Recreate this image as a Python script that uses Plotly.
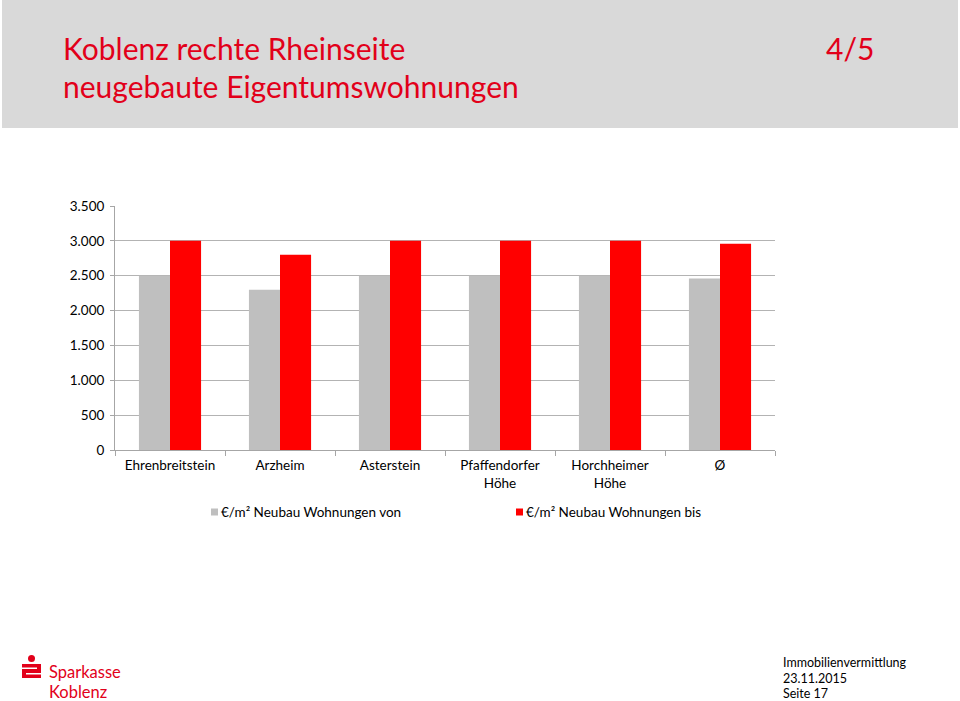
import plotly.graph_objects as go

categories = ["Ehrenbreitstein", "Arzheim", "Asterstein", "Pfaffendorfer<br>Höhe", "Horchheimer<br>Höhe", "Ø"]
values_von = [2500, 2300, 2500, 2500, 2500, 2460]
values_bis = [3000, 2800, 3000, 3000, 3000, 2960]
series_names = ["€/m² Neubau Wohnungen von", "€/m² Neubau Wohnungen bis"]
series_colors = ["#bfbfbf", "#ff0000"]
y_ticks = [0, 500, 1000, 1500, 2000, 2500, 3000, 3500]

RED = "#e2001a"
FONT = "Lato, 'Noto Sans', sans-serif"

fig = go.Figure()
for name, vals, col in zip(series_names, [values_von, values_bis], series_colors):
    fig.add_trace(go.Bar(x=categories, y=vals, name=name, marker_color=col, marker_line_width=0))

fig.update_layout(
    width=960, height=701,
    margin=dict(l=115, r=185, t=206, b=251),
    paper_bgcolor="white", plot_bgcolor="white",
    barmode="group", bargap=0.435, bargroupgap=0,
    separators=",.",
    font=dict(family=FONT, size=12, color="#000000"),
    showlegend=False,
    xaxis=dict(showline=True, linecolor="#a6a6a6", linewidth=1,
               ticks="outside", tickson="boundaries", ticklen=5, tickcolor="#a6a6a6",
               tickfont=dict(size=13.5), ticklabelstandoff=3, showgrid=False),
    yaxis=dict(range=[0, 3500], tickvals=y_ticks, tickformat=",d",
               showline=True, linecolor="#a6a6a6", linewidth=1,
               ticks="outside", ticklen=4, tickcolor="#a6a6a6",
               gridcolor="#b3b3b3", gridwidth=1, zeroline=False,
               tickfont=dict(size=13.5), ticklabelstandoff=3),
)

def px_x(x):
    return (x - 115) / 660

def px_y(y):
    return (450 - y) / 244

# Header band
fig.add_shape(type="rect", xref="x domain", yref="y domain",
              x0=px_x(2), x1=px_x(958), y0=px_y(128), y1=px_y(0),
              line_width=0, fillcolor="#d9d9d9", layer="below")

fig.add_annotation(xref="x domain", yref="y domain", x=px_x(61), y=px_y(48), xanchor="left", yanchor="middle",
                   text="Koblenz rechte Rheinseite", showarrow=False, font=dict(size=30, color=RED, family=FONT))
fig.add_annotation(xref="x domain", yref="y domain", x=px_x(61), y=px_y(86), xanchor="left", yanchor="middle",
                   text="neugebaute Eigentumswohnungen", showarrow=False, font=dict(size=30, color=RED, family=FONT))
fig.add_annotation(xref="x domain", yref="y domain", x=px_x(876), y=px_y(48), xanchor="right", yanchor="middle",
                   text="4/5", showarrow=False, font=dict(size=30, color=RED, family=FONT))

# Manual legend
for name, col, sx in zip(series_names, series_colors, [211, 516]):
    fig.add_shape(type="rect", xref="x domain", yref="y domain",
                  x0=px_x(sx), x1=px_x(sx + 7), y0=px_y(515.5), y1=px_y(508.5),
                  fillcolor=col, line_width=0)
    fig.add_annotation(xref="x domain", yref="y domain", x=px_x(sx + 8), y=px_y(512), xanchor="left", yanchor="middle",
                       text=name, showarrow=False, font=dict(size=13.5, color="#000000", family=FONT))

# Footer logo
fig.add_shape(type="circle", xref="x domain", yref="y domain",
              x0=px_x(28), x1=px_x(35), y0=px_y(662), y1=px_y(655), fillcolor=RED, line_width=0)
fig.add_shape(type="rect", xref="x domain", yref="y domain",
              x0=px_x(22), x1=px_x(41), y0=px_y(678), y1=px_y(664), fillcolor=RED, line_width=0)
fig.add_shape(type="rect", xref="x domain", yref="y domain",
              x0=px_x(22), x1=px_x(37), y0=px_y(669), y1=px_y(667.5), fillcolor="white", line_width=0)
fig.add_shape(type="rect", xref="x domain", yref="y domain",
              x0=px_x(26), x1=px_x(41), y0=px_y(674.5), y1=px_y(673), fillcolor="white", line_width=0)
fig.add_annotation(xref="x domain", yref="y domain", x=px_x(47), y=px_y(672), xanchor="left", yanchor="middle",
                   text="Sparkasse", showarrow=False, font=dict(size=16.5, color=RED, family=FONT))
fig.add_annotation(xref="x domain", yref="y domain", x=px_x(47), y=px_y(692), xanchor="left", yanchor="middle",
                   text="Koblenz", showarrow=False, font=dict(size=16.5, color=RED, family=FONT))

for txt, yy in [("Immobilienvermittlung", 662), ("23.11.2015", 678), ("Seite 17", 693)]:
    fig.add_annotation(xref="x domain", yref="y domain", x=px_x(781), y=px_y(yy), xanchor="left", yanchor="middle",
                       text=txt, showarrow=False, font=dict(size=12.5, color="#000000", family=FONT))

fig.write_html("out.html")
